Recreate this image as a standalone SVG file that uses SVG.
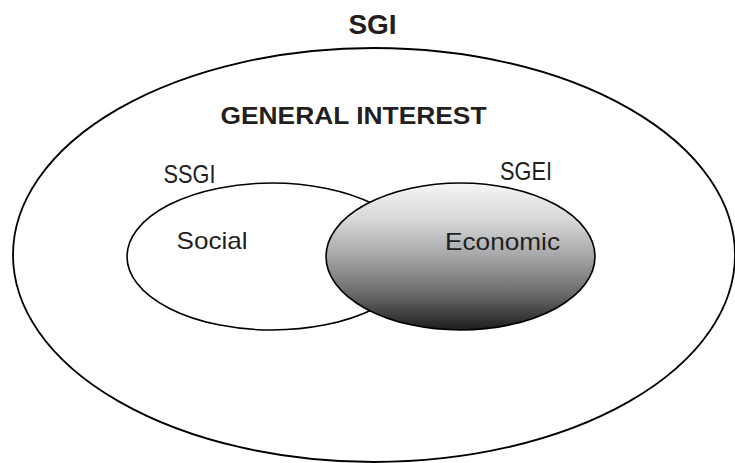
<svg xmlns="http://www.w3.org/2000/svg" width="735" height="463" viewBox="0 0 735 463">
  <defs>
    <linearGradient id="econFill" x1="0" y1="0" x2="0" y2="1">
      <stop offset="0" stop-color="#f5f6f6"/>
      <stop offset="0.25" stop-color="#d6d7d9"/>
      <stop offset="0.5" stop-color="#a5a6a8"/>
      <stop offset="0.75" stop-color="#6b6b6d"/>
      <stop offset="1" stop-color="#1f1c1d"/>
    </linearGradient>
    <style>
      .ring { fill: none; stroke: #000; stroke-width: 1.8; }
      .set { stroke: #000; stroke-width: 1.6; }
      .title { font-family: "Liberation Sans", Arial, sans-serif; font-weight: bold; fill: #231f20; }
      .label { font-family: "Liberation Sans", Arial, sans-serif; fill: #231f20; }
    </style>
  </defs>

  <rect width="735" height="463" fill="#fff"/>

  <!-- outer set: services of general interest -->
  <g id="sgi">
    <ellipse class="ring" cx="374" cy="255" rx="361" ry="207"/>
    <text class="title" x="372.5" y="33.5" font-size="28" text-anchor="middle">SGI</text>
    <text class="title" x="220.5" y="123.5" font-size="24.5" textLength="266" lengthAdjust="spacingAndGlyphs">GENERAL INTEREST</text>
  </g>

  <!-- social services of general interest -->
  <g id="ssgi">
    <ellipse class="set" cx="272" cy="256.5" rx="145" ry="73.5" fill="#fff"/>
    <text class="label" x="163.5" y="182.5" font-size="25" textLength="52" lengthAdjust="spacingAndGlyphs">SSGI</text>
    <text class="label" x="176.5" y="249" font-size="24" textLength="71" lengthAdjust="spacingAndGlyphs">Social</text>
  </g>

  <!-- services of general economic interest -->
  <g id="sgei">
    <ellipse class="set" cx="460.5" cy="256.5" rx="134.5" ry="73.5" fill="url(#econFill)"/>
    <text class="label" x="500" y="180" font-size="25" textLength="52" lengthAdjust="spacingAndGlyphs">SGEI</text>
    <text class="label" x="445" y="250" font-size="24" textLength="115" lengthAdjust="spacingAndGlyphs">Economic</text>
  </g>

  <g id="connectors"/>
</svg>
